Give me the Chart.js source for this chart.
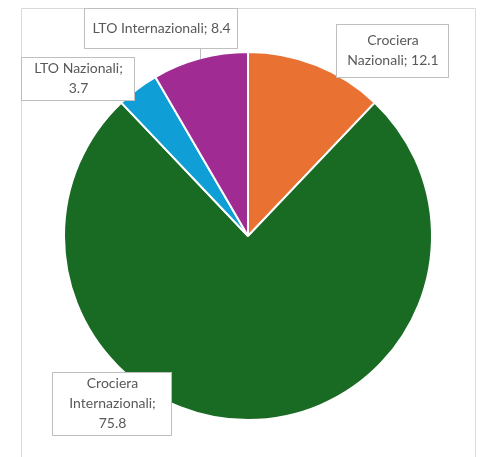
<!DOCTYPE html>
<html>
<head>
<meta charset="utf-8">
<script src="https://cdn.jsdelivr.net/npm/chart.js@4.4.1/dist/chart.umd.min.js"></script>
<style>
  html, body { margin: 0; padding: 0; background: #ffffff; }
  #wrap { width: 484px; height: 457px; position: relative; }
</style>
</head>
<body>
<div id="wrap"><canvas id="c" width="484" height="457"></canvas></div>
<script>
// ---- data ----
const categories = ["Crociera Nazionali", "Crociera Internazionali", "LTO Nazionali", "LTO Internazionali"];
const values = [12.1, 75.8, 3.7, 8.4];
const sliceColors = ["#E97132", "#196B24", "#0F9ED5", "#A02B93"];

// ---- label box layout (Excel-style data labels) ----
const labelLines = [
  ["Crociera", "Nazionali; " + values[0]],
  ["Crociera", "Internazionali;", "" + values[1]],
  ["LTO Nazionali;", "" + values[2]],
  ["LTO Internazionali; " + values[3]]
];
const labelBoxes = [
  { x: 336, y: 24, w: 112, h: 53 },
  { x: 52, y: 372, w: 119, h: 63 },
  { x: 21, y: 57, w: 113, h: 43 },
  { x: 84, y: 8, w: 153, h: 40 }
];

const framePlugin = {
  id: 'frame',
  beforeDraw(chart) {
    const ctx = chart.ctx;
    ctx.save();
    ctx.strokeStyle = '#d9d9d9';
    ctx.lineWidth = 1;
    ctx.beginPath();
    ctx.moveTo(21.5, 470);
    ctx.lineTo(21.5, 8.5);
    ctx.lineTo(475.5, 8.5);
    ctx.lineTo(475.5, 470);
    ctx.stroke();
    ctx.restore();
  },
  afterDraw(chart) {
    const ctx = chart.ctx;
    const meta = chart.getDatasetMeta(0);
    ctx.save();
    // leader line for LTO Internazionali
    const arc = meta.data[3];
    const p = arc.getProps(['x', 'y', 'outerRadius', 'startAngle', 'endAngle']);
    const b3 = labelBoxes[3];
    const lx = 200.5;
    const dy = Math.sqrt(Math.max(p.outerRadius * p.outerRadius - (lx - p.x) * (lx - p.x), 0));
    ctx.strokeStyle = '#bfbfbf';
    ctx.lineWidth = 1;
    ctx.beginPath();
    ctx.moveTo(lx, b3.y + b3.h);
    ctx.lineTo(lx, p.y - dy + 1);
    ctx.stroke();

    ctx.font = '14px Lato, "Open Sans", sans-serif';
    ctx.textAlign = 'center';
    ctx.textBaseline = 'middle';
    labelBoxes.forEach((b, i) => {
      ctx.fillStyle = '#ffffff';
      ctx.fillRect(b.x, b.y, b.w, b.h);
      ctx.strokeStyle = '#bfbfbf';
      ctx.strokeRect(b.x + 0.5, b.y + 0.5, b.w, b.h);
      const lines = labelLines[i];
      const lh = 20;
      const cy = b.y + b.h / 2;
      const start = cy - (lines.length - 1) * lh / 2;
      ctx.fillStyle = '#595959';
      lines.forEach((t, j) => ctx.fillText(t, b.x + b.w / 2 + 1, start + j * lh));
    });
    ctx.restore();
  }
};

new Chart(document.getElementById('c'), {
  type: 'pie',
  data: {
    labels: categories,
    datasets: [{
      data: values,
      backgroundColor: sliceColors,
      borderColor: '#ffffff',
      borderWidth: 2
    }]
  },
  options: {
    responsive: false,
    animation: false,
    layout: { padding: { left: 63, right: 51, top: 51, bottom: 36 } },
    plugins: {
      legend: { display: false },
      tooltip: { enabled: false },
      title: { display: false }
    }
  },
  plugins: [framePlugin]
});
</script>
</body>
</html>
